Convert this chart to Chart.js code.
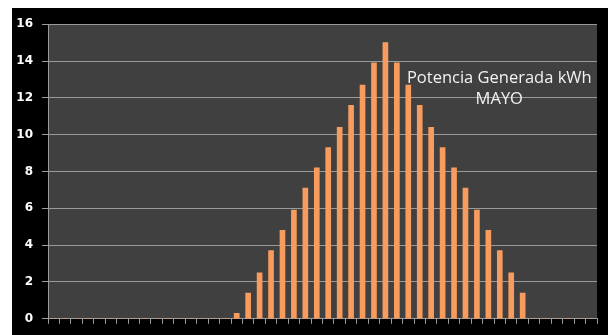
<!DOCTYPE html>
<html>
<head>
<meta charset="utf-8">
<script src="https://cdn.jsdelivr.net/npm/chart.js@4/dist/chart.umd.min.js"></script>
<style>
  html, body { margin: 0; padding: 0; background: #ffffff; width: 608px; height: 335px; overflow: hidden; }
  #wrap { position: absolute; left: 12px; top: 8px; width: 596px; height: 327px; background: #000000; }
  canvas { display: block; }
</style>
</head>
<body>
<div id="wrap"><canvas id="c" width="596" height="327"></canvas></div>
<script>
// Half-hour slots of the day (48 categories)
const categories = [];
for (let h = 0; h < 24; h++) {
  categories.push(h + ':00');
  categories.push(h + ':30');
}
// Generated power per slot, kWh
const potencia = [
  0, 0, 0, 0, 0, 0, 0, 0, 0, 0, 0, 0, 0, 0, 0, 0,
  0.3, 1.4, 2.5, 3.7, 4.8, 5.9, 7.1, 8.2, 9.3, 10.4, 11.6, 12.7, 13.9, 15.0,
  13.9, 12.7, 11.6, 10.4, 9.3, 8.2, 7.1, 5.9, 4.8, 3.7, 2.5, 1.4,
  0, 0, 0, 0, 0, 0
];
const yTicks = [0, 2, 4, 6, 8, 10, 12, 14, 16];
const titleLines = ['Potencia Generada kWh', 'MAYO'];

const bgPlugin = {
  id: 'bgPlugin',
  beforeDraw(chart) {
    const { ctx, chartArea: a } = chart;
    ctx.save();
    ctx.fillStyle = '#000000';
    ctx.fillRect(0, 0, chart.width, chart.height);
    ctx.fillStyle = '#404040';
    ctx.fillRect(a.left, a.top, a.right - a.left, a.bottom - a.top);
    ctx.restore();
  }
};

const titlePlugin = {
  id: 'titlePlugin',
  afterDatasetsDraw(chart) {
    const { ctx, chartArea: a } = chart;
    const cx = a.left + (a.right - a.left) * 0.822;
    ctx.save();
    ctx.fillStyle = '#f2f2f2';
    ctx.textAlign = 'center';
    ctx.textBaseline = 'alphabetic';
    ctx.font = '16.5px "Open Sans"';
    ctx.fillText(titleLines[0], cx, a.top + 58.5);
    ctx.fillText(titleLines[1], cx, a.top + 79.5);
    ctx.restore();
  }
};

new Chart(document.getElementById('c'), {
  type: 'bar',
  data: {
    labels: categories,
    datasets: [{
      label: 'Potencia Generada kWh',
      data: potencia,
      backgroundColor: '#F79C5E',
      borderWidth: 0,
      barThickness: 5
    }]
  },
  options: {
    responsive: false,
    animation: false,
    layout: { padding: { top: 12, right: 11, left: 0, bottom: 0 } },
    plugins: { legend: { display: false }, tooltip: { enabled: false }, title: { display: false } },
    scales: {
      x: {
        offset: true,
        grid: { display: true, drawOnChartArea: false, drawTicks: true, tickLength: 5, color: '#9a9a9a', offset: true },
        border: { display: true, color: '#9a9a9a', width: 1 },
        ticks: { display: false },
        afterFit(scale) { scale.height = 13; }
      },
      y: {
        min: 0,
        max: 16,
        afterBuildTicks(scale) { scale.ticks = yTicks.map(v => ({ value: v })); },
        grid: { color: '#9a9a9a', lineWidth: 1, tickLength: 6, drawTicks: true },
        border: { display: true, color: '#9a9a9a', width: 1 },
        ticks: {
          color: '#ffffff',
          padding: 9,
          font: { family: '"DejaVu Sans"', weight: 'bold', size: 12 }
        },
        afterFit(scale) { scale.width = 36; }
      }
    }
  },
  plugins: [bgPlugin, titlePlugin]
});
</script>
</body>
</html>
